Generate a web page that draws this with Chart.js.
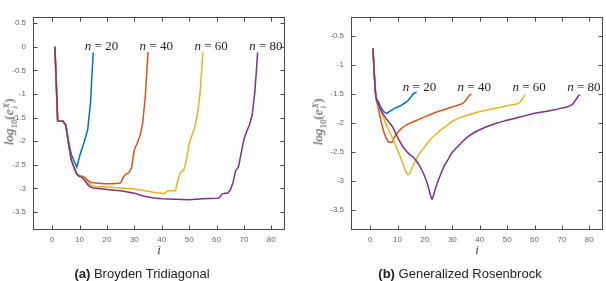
<!DOCTYPE html>
<html>
<head>
<meta charset="utf-8">
<script src="https://cdn.jsdelivr.net/npm/chart.js@4.4.1/dist/chart.umd.min.js"></script>
<style>
  body { margin: 0; width: 606px; height: 281px; background: #fff; position: relative; overflow: hidden; }
  canvas { position: absolute; top: 0; }
  #broyden { left: 0; }
  #rosen { left: 303px; }
  .ylab, .xlab, .caption { position: absolute; white-space: nowrap; color: #333; }
  .ylab { font-family: "Liberation Serif", serif; font-size: 13px; color: #444; transform: translate(-50%, -50%) rotate(-90deg); }
  .ylab .ss { display: inline-block; vertical-align: middle; line-height: 8px; font-size: 9px; text-align: left; margin-left: 1px; }
  .ylab sub { font-size: 9px; }
  .xlab { font-family: "Liberation Serif", serif; font-style: italic; font-size: 13px; color: #444; transform: translate(-50%, -50%); }
  .caption { font-family: "Liberation Sans", sans-serif; font-size: 13px; color: #222; transform: translate(-50%, -50%); }
</style>
</head>
<body>
<canvas id="broyden" width="303" height="281"></canvas>
<canvas id="rosen" width="303" height="281"></canvas>

<div class="ylab" style="left:10px; top:122px"><i>log</i><sub>10</sub>(<i>e</i><span class="ss"><i>X</i><br><i>i</i></span>)</div>
<div class="ylab" style="left:319px; top:122px"><i>log</i><sub>10</sub>(<i>e</i><span class="ss"><i>X</i><br><i>i</i></span>)</div>
<div class="xlab" style="left:159px; top:250px">i</div>
<div class="xlab" style="left:477px; top:250px">i</div>
<div class="caption" style="left:142px; top:273px"><b>(a)</b> Broyden Tridiagonal</div>
<div class="caption" style="left:460px; top:273px"><b>(b)</b> Generalized Rosenbrock</div>

<script>
// axes
const iterTicks = [0, 10, 20, 30, 40, 50, 60, 70, 80];
const broydenTicks = [0.5, 0, -0.5, -1, -1.5, -2, -2.5, -3, -3.5];
const rosenTicks = [-0.5, -1, -1.5, -2, -2.5, -3, -3.5];

// curve labels
const sizeLabels = ["20", "40", "60", "80"];
const labelIters = [18, 38, 58, 78];
const colors = ["#0072BD", "#D95319", "#EDB120", "#7E2F8E"];

// (a) Broyden Tridiagonal
const broyN20i = [1, 2, 3, 4, 5, 6, 7, 8, 9, 10, 11, 12, 13, 14, 14.5, 15];
const broyN20 = [0, -1.57, -1.57, -1.58, -1.66, -2.0, -2.28, -2.42, -2.55, -2.32, -2.14, -1.96, -1.74, -1.18, -0.62, -0.12];
const broyN40i = [1, 2, 3, 4, 5, 6, 7, 8, 9, 10, 11, 12, 13, 14, 15, 17, 19, 22, 24, 25, 26, 27, 28, 29, 30, 31, 32, 33, 34, 34.5, 35];
const broyN40 = [0, -1.57, -1.58, -1.58, -1.67, -2.06, -2.4, -2.56, -2.7, -2.73, -2.74, -2.77, -2.83, -2.87, -2.88, -2.89, -2.9, -2.9, -2.89, -2.88, -2.76, -2.69, -2.67, -2.56, -2.18, -2.05, -1.9, -1.64, -1.05, -0.58, -0.11];
const broyN60i = [1, 2, 3, 4, 5, 6, 7, 8, 9, 10, 11, 12, 13, 14, 15, 16, 20, 25, 30, 33, 36, 38, 40, 41, 42, 43, 45, 46, 47, 48, 49, 50, 51, 52, 53, 54, 54.5, 55];
const broyN60 = [0, -1.57, -1.58, -1.58, -1.67, -2.06, -2.4, -2.56, -2.7, -2.74, -2.76, -2.81, -2.87, -2.92, -2.95, -2.96, -2.97, -2.99, -3.01, -3.04, -3.07, -3.09, -3.1, -3.11, -3.06, -3.05, -3.05, -2.8, -2.65, -2.62, -2.4, -2.06, -1.88, -1.72, -1.45, -0.98, -0.55, -0.12];
const broyN80i = [1, 2, 3, 4, 5, 6, 7, 8, 9, 10, 11, 12, 13, 14, 15, 17, 20, 23, 25, 27, 30, 32, 34, 37, 40, 45, 50, 55, 60, 61, 62, 63, 64, 65, 66, 67, 68, 69, 70, 71, 72, 73, 74, 74.5, 75];
const broyN80 = [0, -1.57, -1.58, -1.58, -1.67, -2.06, -2.4, -2.56, -2.7, -2.75, -2.77, -2.84, -2.92, -2.97, -2.99, -3.0, -3.02, -3.04, -3.05, -3.07, -3.1, -3.14, -3.17, -3.2, -3.22, -3.23, -3.24, -3.22, -3.21, -3.2, -3.12, -3.1, -3.1, -3.04, -2.88, -2.62, -2.55, -2.25, -1.96, -1.8, -1.65, -1.45, -0.95, -0.55, -0.12];

// (b) Generalized Rosenbrock
const rosN20i = [1, 2, 3, 4, 5, 6, 7, 8, 9, 10, 11, 12, 13, 14, 15, 16, 17];
const rosN20 = [-0.71, -1.5, -1.63, -1.73, -1.8, -1.83, -1.8, -1.77, -1.74, -1.72, -1.7, -1.67, -1.64, -1.6, -1.54, -1.48, -1.47];
const rosN40i = [1, 2, 3, 4, 5, 6, 7, 8, 9, 10, 11, 12, 14, 16, 18, 20, 22, 24, 26, 28, 30, 32, 34, 35, 36, 37];
const rosN40 = [-0.71, -1.5, -1.75, -1.97, -2.15, -2.27, -2.33, -2.32, -2.23, -2.16, -2.11, -2.07, -2.01, -1.97, -1.93, -1.89, -1.85, -1.81, -1.78, -1.75, -1.72, -1.69, -1.65, -1.6, -1.53, -1.5];
const rosN60i = [1, 2, 3, 4, 5, 6, 7, 8, 9, 10, 11, 12, 13, 14, 15, 16, 17, 18, 19, 20, 22, 24, 26, 28, 30, 33, 37, 40, 44, 48, 52, 54, 55, 56, 56.5];
const rosN60 = [-0.71, -1.5, -1.68, -1.8, -1.92, -2.04, -2.14, -2.24, -2.35, -2.46, -2.58, -2.71, -2.83, -2.89, -2.8, -2.69, -2.6, -2.52, -2.46, -2.4, -2.28, -2.19, -2.11, -2.04, -1.97, -1.9, -1.84, -1.8, -1.76, -1.72, -1.68, -1.66, -1.62, -1.55, -1.51];
const rosN80i = [1, 2, 3, 4, 5, 6, 7, 8, 9, 10, 11, 12, 13, 14, 15, 16, 17, 18, 19, 20, 21, 22, 22.6, 23, 24, 25, 26, 27, 28, 30, 32, 35, 38, 42, 46, 50, 55, 60, 65, 70, 74, 75, 76, 76.7];
const rosN80 = [-0.71, -1.5, -1.66, -1.78, -1.86, -1.93, -1.99, -2.05, -2.14, -2.24, -2.33, -2.41, -2.47, -2.52, -2.56, -2.6, -2.66, -2.73, -2.82, -2.93, -3.06, -3.24, -3.31, -3.26, -3.1, -2.97, -2.85, -2.74, -2.66, -2.5, -2.4, -2.26, -2.16, -2.07, -2.0, -1.95, -1.89, -1.83, -1.79, -1.74, -1.67, -1.6, -1.53, -1.51];

const toPoints = (xs, ys) => xs.map((x, k) => ({ x: x, y: ys[k] }));

// box, inward ticks and the n = .. labels
const framePlugin = {
  id: "frame",
  afterDraw(chart, args, opts) {
    const { ctx, chartArea: a, scales } = chart;
    const x = scales.x, y = scales.y;
    const L = Math.round(a.left) + 0.5, R = Math.round(a.right) - 0.5;
    const T = Math.round(a.top) + 0.5, B = Math.round(a.bottom) - 0.5;
    ctx.save();
    ctx.strokeStyle = "#4a4a4a";
    ctx.lineWidth = 1;
    ctx.strokeRect(L, T, R - L, B - T);
    ctx.beginPath();
    iterTicks.forEach((v) => {
      const px = Math.round(x.getPixelForValue(v)) + 0.5;
      ctx.moveTo(px, B); ctx.lineTo(px, B - 4);
      ctx.moveTo(px, T); ctx.lineTo(px, T + 4);
    });
    opts.yTicks.forEach((v) => {
      const py = Math.round(y.getPixelForValue(v)) + 0.5;
      ctx.moveTo(L, py); ctx.lineTo(L + 4, py);
      ctx.moveTo(R, py); ctx.lineTo(R - 4, py);
    });
    ctx.stroke();

    // labels
    ctx.fillStyle = "#222";
    ctx.textBaseline = "middle";
    ctx.textAlign = "left";
    sizeLabels.forEach((s, k) => {
      const cx = x.getPixelForValue(labelIters[k]);
      const cy = y.getPixelForValue(opts.labelY);
      ctx.font = "italic 13px 'Liberation Serif'";
      const wn = ctx.measureText("n").width;
      ctx.font = "13px 'Liberation Serif'";
      const rest = " = " + s;
      const wr = ctx.measureText(rest).width;
      const x0 = cx - (wn + wr) / 2;
      ctx.font = "italic 13px 'Liberation Serif'";
      ctx.fillText("n", x0, cy);
      ctx.font = "13px 'Liberation Serif'";
      ctx.fillText(rest, x0 + wn, cy);
    });
    ctx.restore();
  },
};

function makePanel(id, series, yMin, yMax, yTicks, labelY, pad, smooth) {
  const ctx = document.getElementById(id).getContext("2d");
  return new Chart(ctx, {
    type: "line",
    data: {
      datasets: series.map((pts, k) => ({
        data: pts,
        borderColor: colors[k],
        borderWidth: 1.5,
        pointRadius: 0,
        fill: false,
        tension: 0,
        cubicInterpolationMode: smooth ? "monotone" : "default",
        order: 4 - k,
      })),
    },
    options: {
      responsive: false,
      animation: false,
      layout: { padding: { left: 0, top: 17, right: pad.right, bottom: 0 } },
      plugins: {
        legend: { display: false },
        tooltip: { enabled: false },
        frame: { yTicks: yTicks, labelY: labelY },
      },
      scales: {
        x: {
          type: "linear",
          min: -7,
          max: 85,
          grid: { display: false, drawTicks: false },
          border: { display: false },
          ticks: {
            color: "#666",
            font: { family: "Liberation Sans", size: 8 },
            padding: 5,
            maxRotation: 0,
            callback: (v) => String(v),
          },
          afterBuildTicks: (s) => { s.ticks = iterTicks.map((v) => ({ value: v })); },
          afterFit: (s) => { s.height = 51; },
        },
        y: {
          min: yMin,
          max: yMax,
          grid: { display: false, drawTicks: false },
          border: { display: false },
          ticks: {
            color: "#666",
            font: { family: "Liberation Sans", size: 8 },
            padding: 7,
            callback: (v) => String(v),
          },
          afterBuildTicks: (s) => { s.ticks = yTicks.map((v) => ({ value: v })); },
          afterFit: (s) => { s.width = pad.left; },
        },
      },
    },
    plugins: [framePlugin],
  });
}

makePanel(
  "broyden",
  [toPoints(broyN20i, broyN20), toPoints(broyN40i, broyN40), toPoints(broyN60i, broyN60), toPoints(broyN80i, broyN80)],
  -3.88, 0.63, broydenTicks, 0.0, { left: 33, right: 18 }, false
);
makePanel(
  "rosen",
  [toPoints(rosN20i, rosN20), toPoints(rosN40i, rosN40), toPoints(rosN60i, rosN60), toPoints(rosN80i, rosN80)],
  -3.84, -0.17, rosenTicks, -1.39, { left: 48, right: 3 }, true
);
</script>
</body>
</html>
